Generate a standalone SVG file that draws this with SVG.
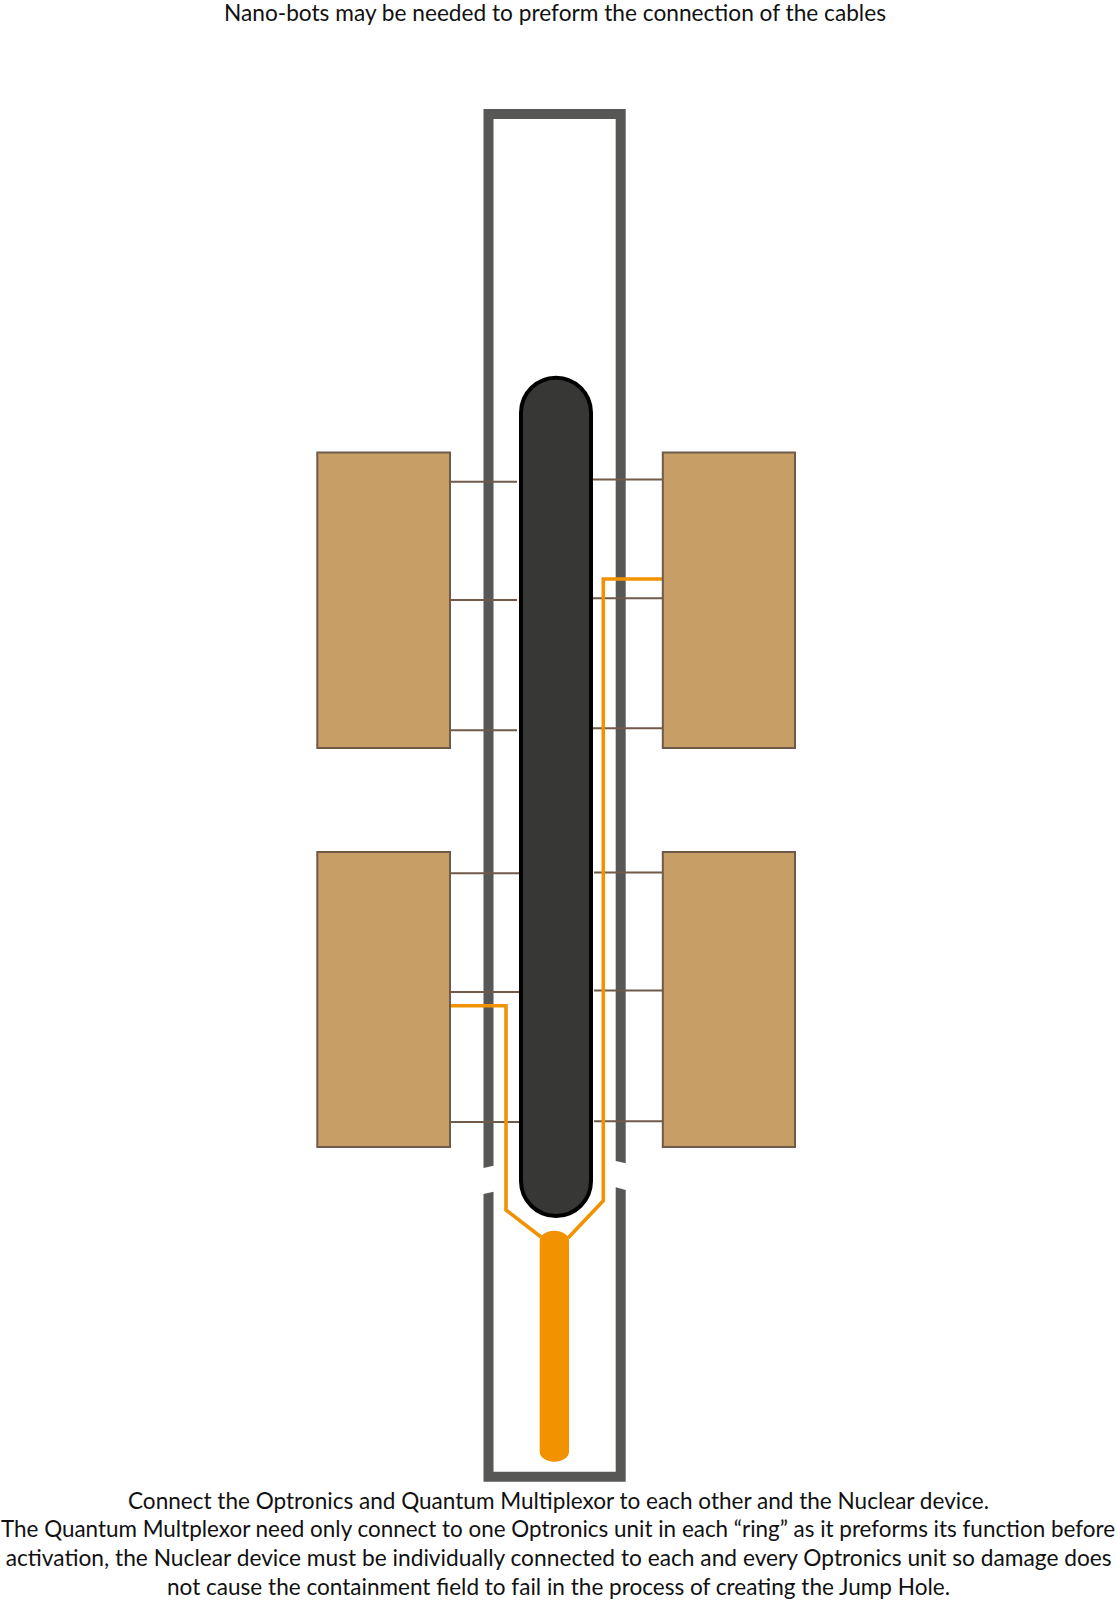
<svg xmlns="http://www.w3.org/2000/svg" width="1116" height="1600" viewBox="0 0 1116 1600">
<style>
text{font-family:"Lato","Open Sans","Liberation Sans",sans-serif;font-size:23.5px;fill:#111}
text.long{font-size:22.4px}
.unit{fill:#c89e67;stroke:#6f5a4b;stroke-width:2}
.wire{stroke:#6f5a4b;stroke-width:2;fill:none}
.cable{stroke:#f39200;stroke-width:3.6;fill:none;stroke-linejoin:miter}
.wall{fill:#575756}
</style>
<rect width="1116" height="1600" fill="#fff"/>
<g id="tube">
<path class="wall" d="M483.5 109H625.7V1163.3L615.7 1161V119H493.5V1165.7L483.5 1168Z"/>
<path class="wall" d="M483.5 1194L493.5 1191.7V1471.7H615.7V1187.3L625.7 1190V1481.7H483.5Z"/>
</g>
<g id="connectors">
<path class="wire" d="M450 481.7H517M450 600H517M450 730.3H517M450 873.3H519M450 992H519M450 1122H519"/>
<path class="wire" d="M591 479.5H662M593 598.3H662M593 728.3H662M594 872.4H662M594 990.5H662M594 1121.3H662"/>
<path class="cable" d="M450 1005.7H506V1210L541 1237"/>
<path class="cable" d="M662 579H603.3V1200.7L568 1238"/>
</g>
<g id="nuclear-device"><rect x="521" y="377.7" width="70" height="838.3" rx="35" ry="35" fill="#373735" stroke="#000" stroke-width="4"/></g>
<g id="multiplexor"><rect x="539.7" y="1230.7" width="29.3" height="231" rx="14.65" ry="10" fill="#f39200"/></g>
<g id="optronics-1"><rect class="unit" x="317.3" y="452.5" width="132.7" height="295.5"/></g>
<g id="optronics-2"><rect class="unit" x="662.8" y="452.5" width="132.2" height="295.5"/></g>
<g id="optronics-3"><rect class="unit" x="317.3" y="852" width="132.7" height="295"/></g>
<g id="optronics-4"><rect class="unit" x="662.8" y="852" width="132.2" height="295"/></g>
<g id="captions">
<text x="224" y="20.5" textLength="662" lengthAdjust="spacingAndGlyphs">Nano-bots may be needed to preform the connection of the cables</text>
<text x="128" y="1508.5" textLength="861" lengthAdjust="spacingAndGlyphs">Connect the Optronics and Quantum Multiplexor to each other and the Nuclear device.</text>
<text class="long" x="1" y="1537.2" textLength="1114" lengthAdjust="spacingAndGlyphs">The Quantum Multplexor need only connect to one Optronics unit in each “ring” as it preforms its function before</text>
<text class="long" x="5.7" y="1565.5" textLength="1106" lengthAdjust="spacingAndGlyphs">activation, the Nuclear device must be individually connected to each and every Optronics unit so damage does</text>
<text x="167" y="1594.5" textLength="783" lengthAdjust="spacingAndGlyphs">not cause the containment field to fail in the process of creating the Jump Hole.</text>
</g>
</svg>
